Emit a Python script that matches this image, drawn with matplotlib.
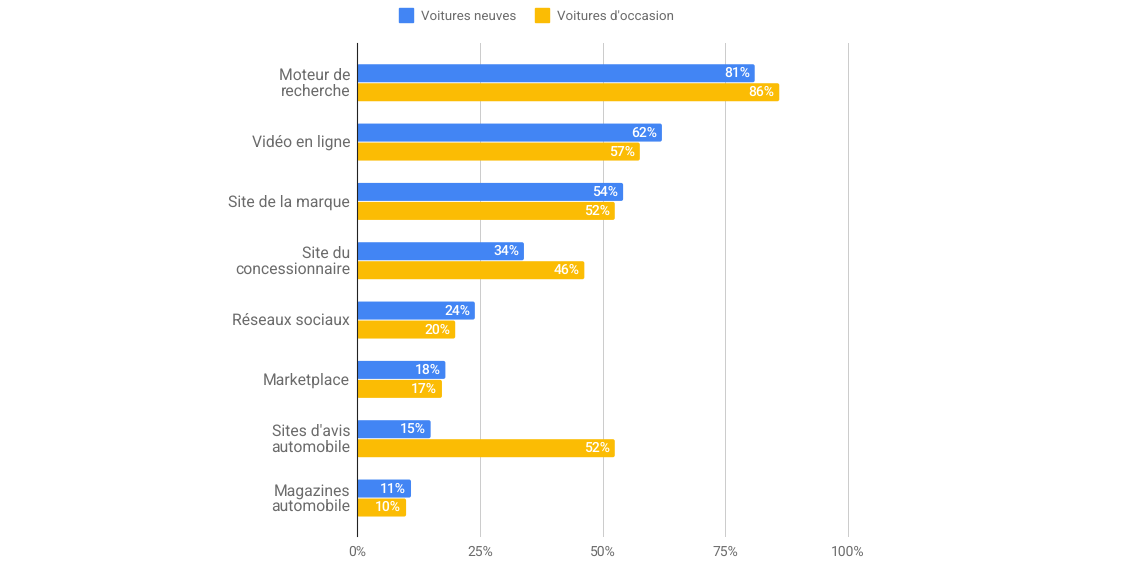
import matplotlib
matplotlib.use("Agg")
import matplotlib.pyplot as plt
import matplotlib.transforms as mtransforms
import numpy as np
from matplotlib.patches import Patch, FancyBboxPatch

categories = ["Moteur de\nrecherche", "Vidéo en ligne", "Site de la marque", "Site du\nconcessionnaire",
              "Réseaux sociaux", "Marketplace", "Sites d'avis\nautomobile", "Magazines\nautomobile"]
# longueurs
neuves = [81, 62.1, 54.2, 34, 24, 18, 15, 11]
occasion = [86, 57.6, 52.5, 46.3, 20, 17.3, 52.5, 10]
neuves_labels = ["81%", "62%", "54%", "34%", "24%", "18%", "15%", "11%"]
occasion_labels = ["86%", "57%", "52%", "46%", "20%", "17%", "52%", "10%"]
xticks = [0, 25, 50, 75, 100]

BLUE = "#4285f4"
YELLOW = "#fbbc04"
GREY = "#6b6b6b"


def rounded_bars(ax, bars, color):
    # coins arrondis: barh donne la position, FancyBboxPatch le dessin
    for b in bars:
        b.set_visible(False)
        ax.add_patch(FancyBboxPatch((b.get_x(), b.get_y()), b.get_width(), b.get_height(),
                                    boxstyle="round,pad=0,rounding_size=0.4", mutation_aspect=0.083,
                                    facecolor=color, edgecolor="none", zorder=3))


def main():
    plt.rcParams["font.family"] = ["Roboto", "DejaVu Sans"]
    plt.rcParams["text.hinting"] = "none"
    fig = plt.figure(figsize=(11.46, 5.73), dpi=100)
    ax = fig.add_axes([357 / 1146, 1 - 536 / 573, (848 - 357) / 1146, (536 - 43) / 573])

    y = np.arange(len(categories))
    h = 18 / 59.3
    rounded_bars(ax, ax.barh(y - 0.16, neuves, height=h), BLUE)
    rounded_bars(ax, ax.barh(y + 0.16, occasion, height=h), YELLOW)

    for i in range(len(categories)):
        ax.text(neuves[i] - 1, y[i] - 0.16, neuves_labels[i], color="white", fontsize=10,
                fontweight=500, ha="right", va="center", zorder=4)
        ax.text(occasion[i] - 1, y[i] + 0.16, occasion_labels[i], color="white", fontsize=10,
                fontweight=500, ha="right", va="center", zorder=4)

    ax.set_xlim(0, 100)
    ax.set_ylim(7.64, -0.67)
    ax.set_xticks(xticks)
    ax.set_xticklabels([f"{v}%" for v in xticks], color=GREY, fontsize=10)
    ax.set_yticks(y)
    ax.set_yticklabels(categories, color=GREY, fontsize=11.3, linespacing=1.02, multialignment="right")
    ax.tick_params(length=0)
    ax.tick_params(axis="y", pad=5)
    ax.tick_params(axis="x", pad=7)
    # tick_params remet le transform, donc le decalage vient apres
    up = mtransforms.ScaledTranslation(0, 1 / 100, fig.dpi_scale_trans)
    for lab in ax.get_yticklabels():
        lab.set_transform(lab.get_transform() + up)
    ax.grid(axis="x", color="#cccccc", linewidth=0.72, zorder=0)
    for line in ax.get_xgridlines():
        line.set_clip_on(False)
    for name in ["top", "right", "bottom"]:
        ax.spines[name].set_visible(False)
    ax.spines["left"].set_color("#222222")
    ax.spines["left"].set_zorder(5)

    handles = [Patch(color=BLUE, label="Voitures neuves"), Patch(color=YELLOW, label="Voitures d'occasion")]
    fig.legend(handles=handles, ncol=2, loc="center", bbox_to_anchor=(536.5 / 1146, 1 - 15 / 573), frameon=False,
               fontsize=9.6, labelcolor=GREY, handlelength=1.05, handleheight=1.35, columnspacing=1.4, handletextpad=0.6)

    fig.savefig("out.png", dpi=100)
    plt.close(fig)


if __name__ == "__main__":
    main()
